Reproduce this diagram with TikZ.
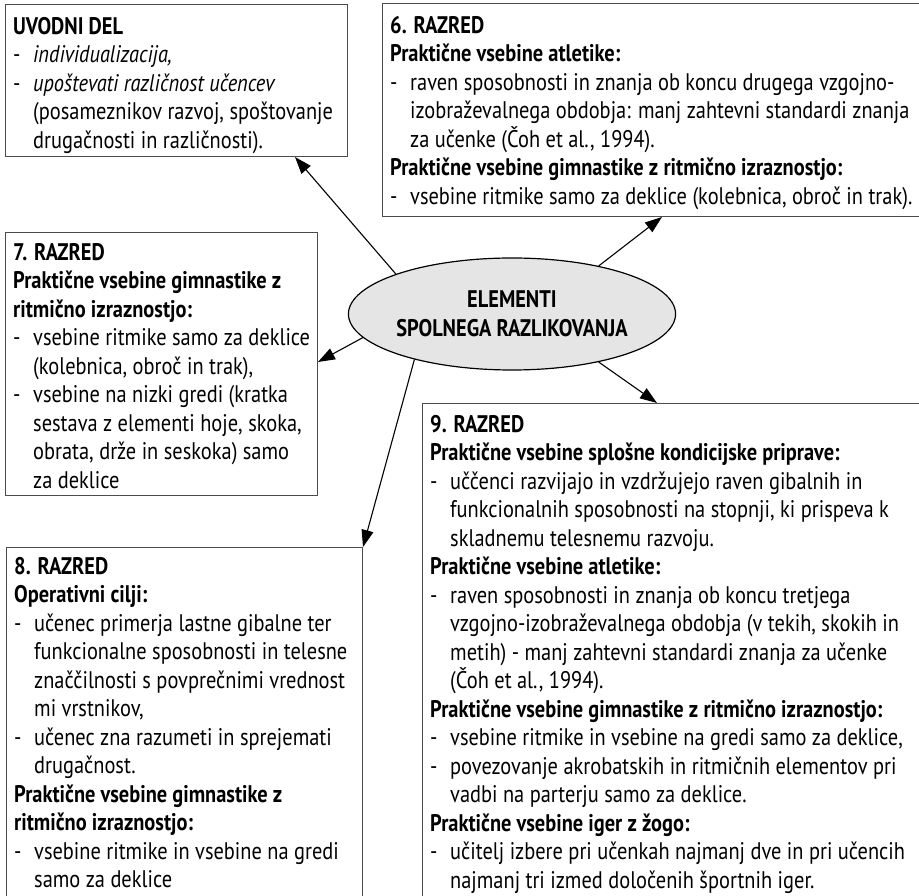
\documentclass[tikz,border=0pt]{standalone}
\usepackage{fontspec}
\setmainfont{PT Sans}[FakeStretch=0.85]
\usetikzlibrary{shapes.geometric,arrows.meta,calc}
\definecolor{mygray}{rgb}{0.9,0.9,0.9}
\definecolor{myline}{rgb}{0.3,0.3,0.3}
\tikzset{box/.style={draw=myline, line width=1pt, anchor=north west, inner sep=0pt}}
\tikzset{txt/.style={anchor=north west, align=left, inner sep=0pt, font=\fontsize{24}{28.5}\selectfont}}
\tikzset{arr/.style={-{Triangle[length=17pt,width=12pt]}, line width=1.1pt}}
\newcommand{\itdash}{\makebox[20pt][l]{-}}
\newcommand{\itcont}{\hspace*{20pt}}

\begin{document}
\begin{tikzpicture}[x=1pt, y=1pt]
\useasboundingbox (0,0) rectangle (919,895);
\clip (0,0) rectangle (919,895);
% boxes
\node [box, minimum width=342pt, minimum height=152pt] (uvod) at (5,891) {};
\node [box, minimum width=560pt, minimum height=213pt] (r6) at (382,892) {};
\node [box, minimum width=312pt, minimum height=263pt] (r7) at (5,663) {};
\node [box, minimum width=356pt, minimum height=380pt] (r8) at (6,348) {};
\node [box, minimum width=520pt, minimum height=520pt] (r9) at (422,492) {};
% centre
\node [ellipse, draw, line width=1.2pt, fill=mygray, minimum width=300pt, minimum height=112pt, inner sep=0pt, align=center, font=\fontsize{24}{29}\selectfont\bfseries] (elem) at (512,581) {ELEMENTI\\SPOLNEGA RAZLIKOVANJA};
% texts
\node [txt] (uvodtxt) at ($(uvod.north west)+(8,-13)$) {\textbf{UVODNI DEL}\\
\itdash\textit{individualizacija,}\\
\itdash\textit{upoštevati različnost učencev}\\
\itcont(posameznikov razvoj, spoštovanje\\
\itcont drugačnosti in različnosti).};
\node [txt] (r6txt) at ($(r6.north west)+(8,-13)$) {\textbf{6. RAZRED}\\
\textbf{Praktične vsebine atletike:}\\
\itdash raven sposobnosti in znanja ob koncu drugega vzgojno-\\
\itcont izobraževalnega obdobja: manj zahtevni standardi znanja\\
\itcont za učenke (Čoh et al., 1994).\\
\textbf{Praktične vsebine gimnastike z ritmično izraznostjo:}\\
\itdash vsebine ritmike samo za deklice (kolebnica, obroč in trak).};
\node [txt] (r7txt) at ($(r7.north west)+(8,-11)$) {\textbf{7. RAZRED}\\
\textbf{Praktične vsebine gimnastike z}\\
\textbf{ritmično izraznostjo:}\\
\itdash vsebine ritmike samo za deklice\\
\itcont(kolebnica, obroč in trak),\\
\itdash vsebine na nizki gredi (kratka\\
\itcont sestava z elementi hoje, skoka,\\
\itcont obrata, drže in seskoka) samo\\
\itcont za deklice};
\node [txt] (r8txt) at ($(r8.north west)+(8,-10)$) {\textbf{8. RAZRED}\\
\textbf{Operativni cilji:}\\
\itdash učenec primerja lastne gibalne ter\\
\itcont funkcionalne sposobnosti in telesne\\
\itcont značčilnosti s povprečnimi vrednost\\
\itcont mi vrstnikov,\\
\itdash učenec zna razumeti in sprejemati\\
\itcont drugačnost.\\
\textbf{Praktične vsebine gimnastike z}\\
\textbf{ritmično izraznostjo:}\\
\itdash vsebine ritmike in vsebine na gredi\\
\itcont samo za deklice};
\node [txt] (r9txt) at ($(r9.north west)+(8,-12)$) {\textbf{9. RAZRED}\\
\textbf{Praktične vsebine splošne kondicijske priprave:}\\
\itdash uččenci razvijajo in vzdržujejo raven gibalnih in\\
\itcont funkcionalnih sposobnosti na stopnji, ki prispeva k\\
\itcont skladnemu telesnemu razvoju.\\
\textbf{Praktične vsebine atletike:}\\
\itdash raven sposobnosti in znanja ob koncu tretjega\\
\itcont vzgojno-izobraževalnega obdobja (v tekih, skokih in\\
\itcont metih) - manj zahtevni standardi znanja za učenke\\
\itcont(Čoh et al., 1994).\\
\textbf{Praktične vsebine gimnastike z ritmično izraznostjo:}\\
\itdash vsebine ritmike in vsebine na gredi samo za deklice,\\
\itdash povezovanje akrobatskih in ritmičnih elementov pri\\
\itcont vadbi na parterju samo za deklice.\\
\textbf{Praktične vsebine iger z žogo:}\\
\itdash učitelj izbere pri učenkah najmanj dve in pri učencih\\
\itcont najmanj tri izmed določenih športnih iger.};
% arrows
\coordinate (t1) at ($(uvod.south west)+(290,0)$);
\coordinate (t2) at ($(r6.south west)+(280,0)$);
\coordinate (t3) at ($(r7.north east)+(0,-130)$);
\coordinate (t4) at (r8.north east);
\coordinate (t5) at ($(r9.north west)+(235,0)$);
\foreach \ang/\tip in {161.7/t1, 29.6/t2, 189.8/t3, 205.9/t4, 331.9/t5} {
  \draw [arr] (elem.\ang) -- (\tip);
}
\end{tikzpicture}
\end{document}
